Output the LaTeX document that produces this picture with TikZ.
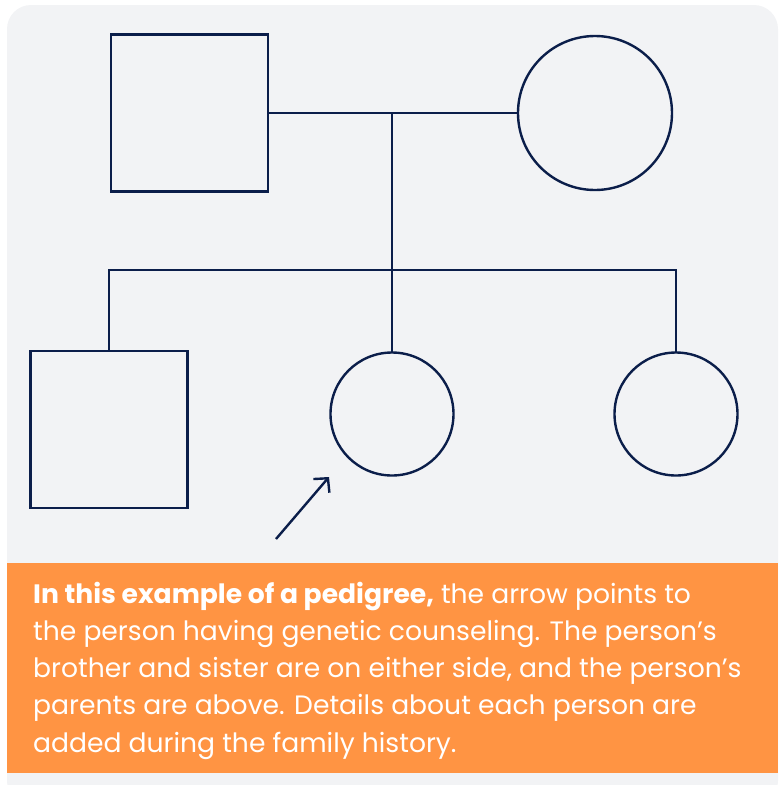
\documentclass[tikz,border=0pt]{standalone}
\usepackage{fontspec}
\setmainfont{Poppins}
\usetikzlibrary{arrows.meta}

\definecolor{navy}{HTML}{0B1E4A}
\definecolor{panelgray}{HTML}{F2F3F5}
\definecolor{notebox}{HTML}{FF9443}

\begin{document}
\begin{tikzpicture}[x=1pt,y=-1pt,
	person/.style={draw=navy, line width=2.4pt, inner sep=0pt, outer sep=0pt},
	male/.style={person, rectangle, minimum size=157pt},
	female/.style={person, circle},
	link/.style={draw=navy, line width=2.4pt}]
	
	\useasboundingbox (0,0) rectangle (783,785);
	\clip (0,0) rectangle (783,785);
	
	\fill [panelgray, rounded corners=24pt] (7,5) rectangle (778,805);
	
	\fill [notebox] (7,563) rectangle (778,773);
	
	% parents
	\node [male] (father) at (189.5,113) {};
	\node [female, minimum size=154pt] (mother) at (595,113) {};
	
	% children
	\node [male] (brother) at (109,429.5) {};
	\node [female, minimum size=123pt] (proband) at (392,414) {};
	\node [female, minimum size=123pt] (sister) at (676,414) {};
	
	\coordinate (couple) at (392,113);
	\coordinate (sibs) at (392,270);
	
	\draw [link] (father.east) -- (mother.west);
	
	\draw [link] (couple) -- (sibs) -- (proband.north);
	
	\draw [link] (brother.north) |- (sibs) -| (sister.north);
	
	\coordinate (pointer) at (276,539);
	\coordinate (target) at (329,477);
	\draw [link, -{Straight Barb[length=10pt, width=21pt]}] (pointer) -- (target);
	
	% base of a multi-line node is its last line
	\node [anchor=base west, align=left, text=white, inner sep=0pt, font=\fontsize{26.6pt}{37.2pt}\selectfont] (note) at (33,752) {\textbf{In this example of a pedigree,} the arrow points to\\the person having genetic counseling. The person’s\\brother and sister are on either side, and the person’s\\parents are above. Details about each person are\\added during the family history.};
	
\end{tikzpicture}
\end{document}
